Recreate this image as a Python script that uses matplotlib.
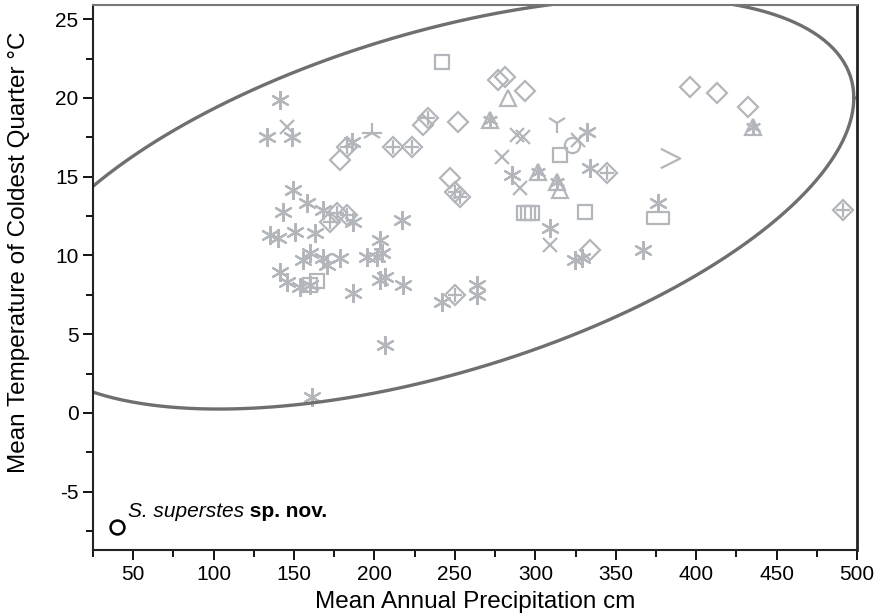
import numpy as np
import matplotlib
matplotlib.use('Agg')
import matplotlib.pyplot as plt
from matplotlib.path import Path

plt.rcParams['font.family'] = ['Liberation Sans', 'DejaVu Sans']
plt.rcParams['axes.unicode_minus'] = False

# marker data (precipitation cm, temperature C)
star_x = [141.2, 133.1, 148.7, 149.3, 143.1, 158.0, 168.0, 186.6, 217.0, 203.4,
          135.0, 140.0, 150.5, 163.0, 155.5, 159.9, 168.0, 170.4, 178.5, 195.3,
          201.5, 204.6, 141.2, 145.6, 153.7, 159.9, 186.6, 203.4, 206.5, 217.7,
          241.9, 263.7, 263.7, 206.5, 161.1, 186.0, 285.4, 333.9, 332.0, 309.0,
          376.1, 328.9, 324.6, 366.8]
star_y = [19.89, 17.53, 17.53, 14.17, 12.77, 13.34, 12.90, 12.13, 12.26, 10.99,
          11.31, 11.12, 11.50, 11.44, 9.72, 10.17, 9.85, 9.40, 9.85, 9.91,
          9.91, 10.17, 8.96, 8.32, 8.01, 8.13, 7.62, 8.45, 8.64, 8.13,
          7.05, 8.13, 7.50, 4.32, 1.02, 17.22, 15.12, 15.57, 17.85, 11.75,
          13.34, 9.85, 9.72, 10.36]

cross_x = [145.6, 288.5, 292.2, 279.2, 290.4, 326.4, 309.0]
cross_y = [18.17, 17.66, 17.53, 16.26, 14.29, 17.34, 10.67]

diamond_x = [178.5, 230.1, 251.8, 246.9, 276.7, 281.1, 293.5, 396.0, 412.8, 432.1, 333.9]
diamond_y = [16.07, 18.30, 18.49, 14.93, 21.16, 21.35, 20.46, 20.71, 20.33, 19.44, 10.36]

dplus_x = [182.9, 211.5, 223.3, 233.2, 249.8, 253.1, 176.6, 182.9, 172.3, 344.5, 249.8, 491.1]
dplus_y = [16.90, 16.90, 16.90, 18.74, 14.04, 13.72, 12.71, 12.58, 12.13, 15.25, 7.50, 12.90]

square_x = [241.9, 315.2, 330.8, 164.2, 159.9, 292.9, 295.4, 297.8]
square_y = [22.30, 16.39, 12.77, 8.39, 8.13, 12.71, 12.71, 12.71]

rect_x = [376.1]
rect_y = [12.39]

tri_x = [282.9, 315.2]
tri_y = [20.01, 14.17]

tristar_x = [271.7, 301.9, 313.4, 435.2]
tristar_y = [18.62, 15.31, 14.68, 18.17]

ydown_x = [313.4]
ydown_y = [18.42]

yup_x = [198.4]
yup_y = [17.79]

circle_x = [322.7]
circle_y = [17.03]

chevron_x = [383.6]
chevron_y = [16.20]

# the new species
sp_x = [40]
sp_y = [-7.24]

# ellipse: centre and conjugate semi-diameters
ell_cx, ell_cy = 237.0, 13.3
ell_ax, ell_ay = 261.0, 6.7    # diameter through the rightmost point
ell_by = 11.2                  # vertical conjugate semi-diameter

grey = '#b3b7bc'
star_marker = (6, 2, 0)
chevron = Path([(-1, 1), (1, 0), (-1, -1)], [Path.MOVETO, Path.LINETO, Path.LINETO])
rect = Path([(-1.4, -0.7), (1.4, -0.7), (1.4, 0.7), (-1.4, 0.7), (-1.4, -0.7)],
            [Path.MOVETO, Path.LINETO, Path.LINETO, Path.LINETO, Path.CLOSEPOLY])

fig = plt.figure(figsize=(8.79, 6.14), dpi=100)
ax = fig.add_axes([0.1058, 0.1042, 0.975 - 0.1058, 0.9919 - 0.1042])

kw = dict(linestyle='none', color=grey, mfc='none', mew=1.6)
ax.plot(star_x, star_y, marker=star_marker, ms=13.5, **kw)
ax.plot(cross_x, cross_y, marker='x', ms=10, **kw)
ax.plot(diamond_x, diamond_y, marker='D', ms=10, **kw)
ax.plot(dplus_x, dplus_y, marker='D', ms=10, **kw)
ax.plot(dplus_x, dplus_y, marker='+', ms=10, **kw)
ax.plot(square_x, square_y, marker='s', ms=10, **kw)
ax.plot(rect_x, rect_y, marker=rect, ms=16, **kw)
ax.plot(tri_x, tri_y, marker='^', ms=12, **kw)
ax.plot(tristar_x, tristar_y, marker='^', ms=12, **kw)
ax.plot(tristar_x, tristar_y, marker=star_marker, ms=11, **kw)
ax.plot(ydown_x, ydown_y, marker='1', ms=14, **kw)
ax.plot(yup_x, yup_y, marker='2', ms=14, **kw)
ax.plot(yup_x, yup_y, marker='_', ms=14, **kw)
ax.plot(circle_x, circle_y, marker='o', ms=11, **kw)
ax.plot(chevron_x, chevron_y, marker=chevron, ms=14, **kw)

ax.plot(sp_x, sp_y, linestyle='none', marker='o', ms=10, mfc='none',
        mec='black', mew=1.8)
t1 = ax.text(sp_x[0] + 6.5, sp_y[0] + 0.4, 'S. superstes', fontsize=15,
             style='italic', va='bottom', ha='left')
ax.annotate(' sp. nov.', xy=(1, 0), xycoords=t1, fontsize=15,
            fontweight='bold', va='bottom', ha='left')

t = np.linspace(0, 2 * np.pi, 400)
ex = ell_cx + ell_ax * np.cos(t)
ey = ell_cy + ell_ay * np.cos(t) + ell_by * np.sin(t)
ax.plot(ex, ey, color='#6f6f6f', lw=2.4)

ax.set_xlim(25, 500)
ax.set_ylim(-8.7, 25.9)
ax.set_xticks(np.arange(50, 501, 50))
ax.set_xticks(np.arange(25, 501, 25), minor=True)
ax.set_yticks(np.arange(-5, 26, 5))
ax.set_yticks(np.arange(-7.5, 26, 2.5), minor=True)
ax.tick_params(which='both', direction='out', labelsize=15, width=1.3)
ax.tick_params(which='major', length=7)
ax.tick_params(which='minor', length=5)

ax.set_xlabel('Mean Annual Precipitation cm', fontsize=17.5, labelpad=5)
ax.set_ylabel('Mean Temperature of Coldest Quarter \u00b0C', fontsize=17.5)
ax.yaxis.set_label_coords(-0.082, 0.547)

for s in ['left', 'bottom', 'right']:
    ax.spines[s].set_color('#222222')
    ax.spines[s].set_linewidth(1.5)
ax.spines['right'].set_linewidth(2)
ax.spines['top'].set_color('#777777')
ax.spines['top'].set_linewidth(1.5)

fig.savefig('out.png', dpi=100)
